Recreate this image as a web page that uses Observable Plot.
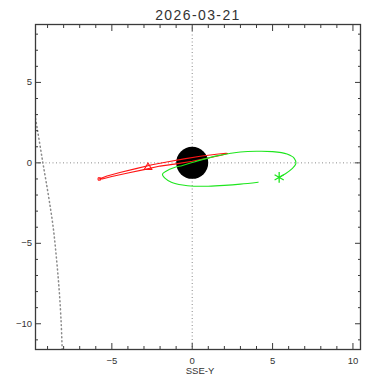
<!DOCTYPE html>
<html>
<head>
<meta charset="utf-8">
<script src="https://cdn.jsdelivr.net/npm/d3@7"></script>
<script src="https://cdn.jsdelivr.net/npm/@observablehq/plot@0.6"></script>
<style>
  html, body { margin: 0; padding: 0; background: #fff; }
</style>
</head>
<body>
<div id="chart"></div>
<script>
// ---- text ----
const titleText = "2026-03-21";
const xLabelText = "SSE-Y";

// ---- ticks ----
const xMajorTicks = [-5, 0, 5, 10];
const yMajorTicks = [-10, -5, 0, 5];
const xMinorTicks = [-9, -8, -7, -6, -4, -3, -2, -1, 1, 2, 3, 4, 6, 7, 8, 9];
const yMinorTicks = [-11, -9, -8, -7, -6, -4, -3, -2, -1, 1, 2, 3, 4, 6, 7, 8];

// ---- Earth ----
const earth = [{x: 0, y: 0}];

// ---- red orbit (thin ellipse) ----
const redX = [-5.8, -5.3, -4.5, -3.5, -2.5, -1.5, -0.5, 0.5, 1.5, 2.1, 2.2, 1.8, 1.0, 0.0, -1.0, -2.0, -3.0, -4.0, -5.0, -5.6, -5.8];
const redY = [-1.0, -0.82, -0.6, -0.36, -0.12, 0.07, 0.25, 0.41, 0.54, 0.6, 0.58, 0.47, 0.3, 0.1, -0.06, -0.2, -0.42, -0.63, -0.85, -1.0, -1.0];
const redTriangle = [{x: -2.75, y: -0.28}];
const redSquare = [{x: -5.78, y: -1.0}];

// ---- green orbit ----
const greenX = [5.41, 5.8, 6.2, 6.45, 6.35, 5.9, 5.0, 4.0, 3.0, 2.4, 1.6, 0.8, 0.0, -0.6, -1.15, -1.6, -1.85, -1.7, -1.3, -0.6, 0.1, 1.0, 2.0, 3.0, 4.1];
const greenY = [-0.9, -0.68, -0.38, -0.05, 0.28, 0.55, 0.70, 0.72, 0.68, 0.6, 0.45, 0.25, 0.02, -0.16, -0.3, -0.5, -0.7, -0.95, -1.2, -1.38, -1.45, -1.45, -1.4, -1.32, -1.2];
const greenStar = [{x: 5.41, y: -0.9}];

// ---- dotted curve on the left ----
const dotX = [-9.79, -9.62, -9.29, -8.95, -8.65, -8.44, -8.27, -8.15, -8.09];
const dotY = [3.0, 2.0, 0.0, -2.0, -4.0, -6.0, -8.0, -10.0, -11.6];

const zip = (xs, ys) => xs.map((x, i) => ({x, y: ys[i]}));
const red = zip(redX, redY);
const green = zip(greenX, greenY);
const dotted = zip(dotX, dotY);

const RED = "#ff1414";
const GREEN = "#1ee61e";
const AX = "#3a3a3a";
const DOT = "#8a8a8a";

const tickAxes = (ticks, size) => [
  Plot.axisX(ticks, {anchor: "bottom", tickSize: size, dy: -size, fill: "none", stroke: AX, label: null}),
  Plot.axisX(ticks, {anchor: "top", tickSize: size, dy: size, fill: "none", stroke: AX, label: null})
];
const tickAxesY = (ticks, size) => [
  Plot.axisY(ticks, {anchor: "left", tickSize: size, dx: size, fill: "none", stroke: AX, label: null}),
  Plot.axisY(ticks, {anchor: "right", tickSize: size, dx: -size, fill: "none", stroke: AX, label: null})
];

const chart = Plot.plot({
  width: 366,
  height: 379,
  marginLeft: 35,
  marginRight: 6,
  marginTop: 24,
  marginBottom: 30,
  x: {domain: [-9.75, 10.47]},
  y: {domain: [-11.6, 8.6]},
  style: {fontFamily: "'Liberation Sans', Arial, sans-serif", fontSize: "9.5px", color: "#333", background: "#fff"},
  marks: [
    Plot.ruleX([0], {stroke: DOT, strokeDasharray: "1,2.5"}),
    Plot.ruleY([0], {stroke: DOT, strokeDasharray: "1,2.5"}),
    Plot.line(dotted, {x: "x", y: "y", stroke: DOT, strokeDasharray: "1,3", curve: "catmull-rom", clip: true}),
    Plot.dot(earth, {x: "x", y: "y", r: 16, fill: "black"}),
    Plot.line(red, {x: "x", y: "y", stroke: RED, strokeWidth: 1.1, curve: "linear"}),
    Plot.dot(redTriangle, {x: "x", y: "y", symbol: "triangle", r: 2.8, stroke: RED, fill: "none", strokeWidth: 1.1}),
    Plot.dot(redSquare, {x: "x", y: "y", symbol: "square", r: 1.4, stroke: RED, fill: "none", strokeWidth: 1}),
    Plot.line(green, {x: "x", y: "y", stroke: GREEN, strokeWidth: 1.1, curve: "catmull-rom"}),
    Plot.dot(greenStar, {x: "x", y: "y", symbol: "asterisk", r: 5, stroke: GREEN, strokeWidth: 1.3}),
    Plot.frame({stroke: AX, strokeWidth: 1.3}),
    ...tickAxes(xMinorTicks, 3),
    ...tickAxes(xMajorTicks, 6),
    ...tickAxesY(yMinorTicks, 3),
    ...tickAxesY(yMajorTicks, 6),
    Plot.axisX(xMajorTicks, {anchor: "bottom", tickSize: 0, tickPadding: 7.5, label: null, fill: "#333"}),
    Plot.axisY(yMajorTicks, {anchor: "left", tickSize: 0, tickPadding: 3.5, label: null, fill: "#333"}),
    Plot.text([xLabelText], {frameAnchor: "bottom", dy: 24, dx: 2, fontSize: 9.5, fill: "#333", lineAnchor: "bottom"}),
    Plot.text([titleText], {frameAnchor: "top", dy: -4.5, fontSize: 14, fill: "#333", lineAnchor: "bottom"})
  ]
});

d3.select(chart).selectAll("text").filter(function () { return this.textContent === titleText; })
  .style("letter-spacing", "1.4px");

document.getElementById("chart").appendChild(chart);
</script>
</body>
</html>
